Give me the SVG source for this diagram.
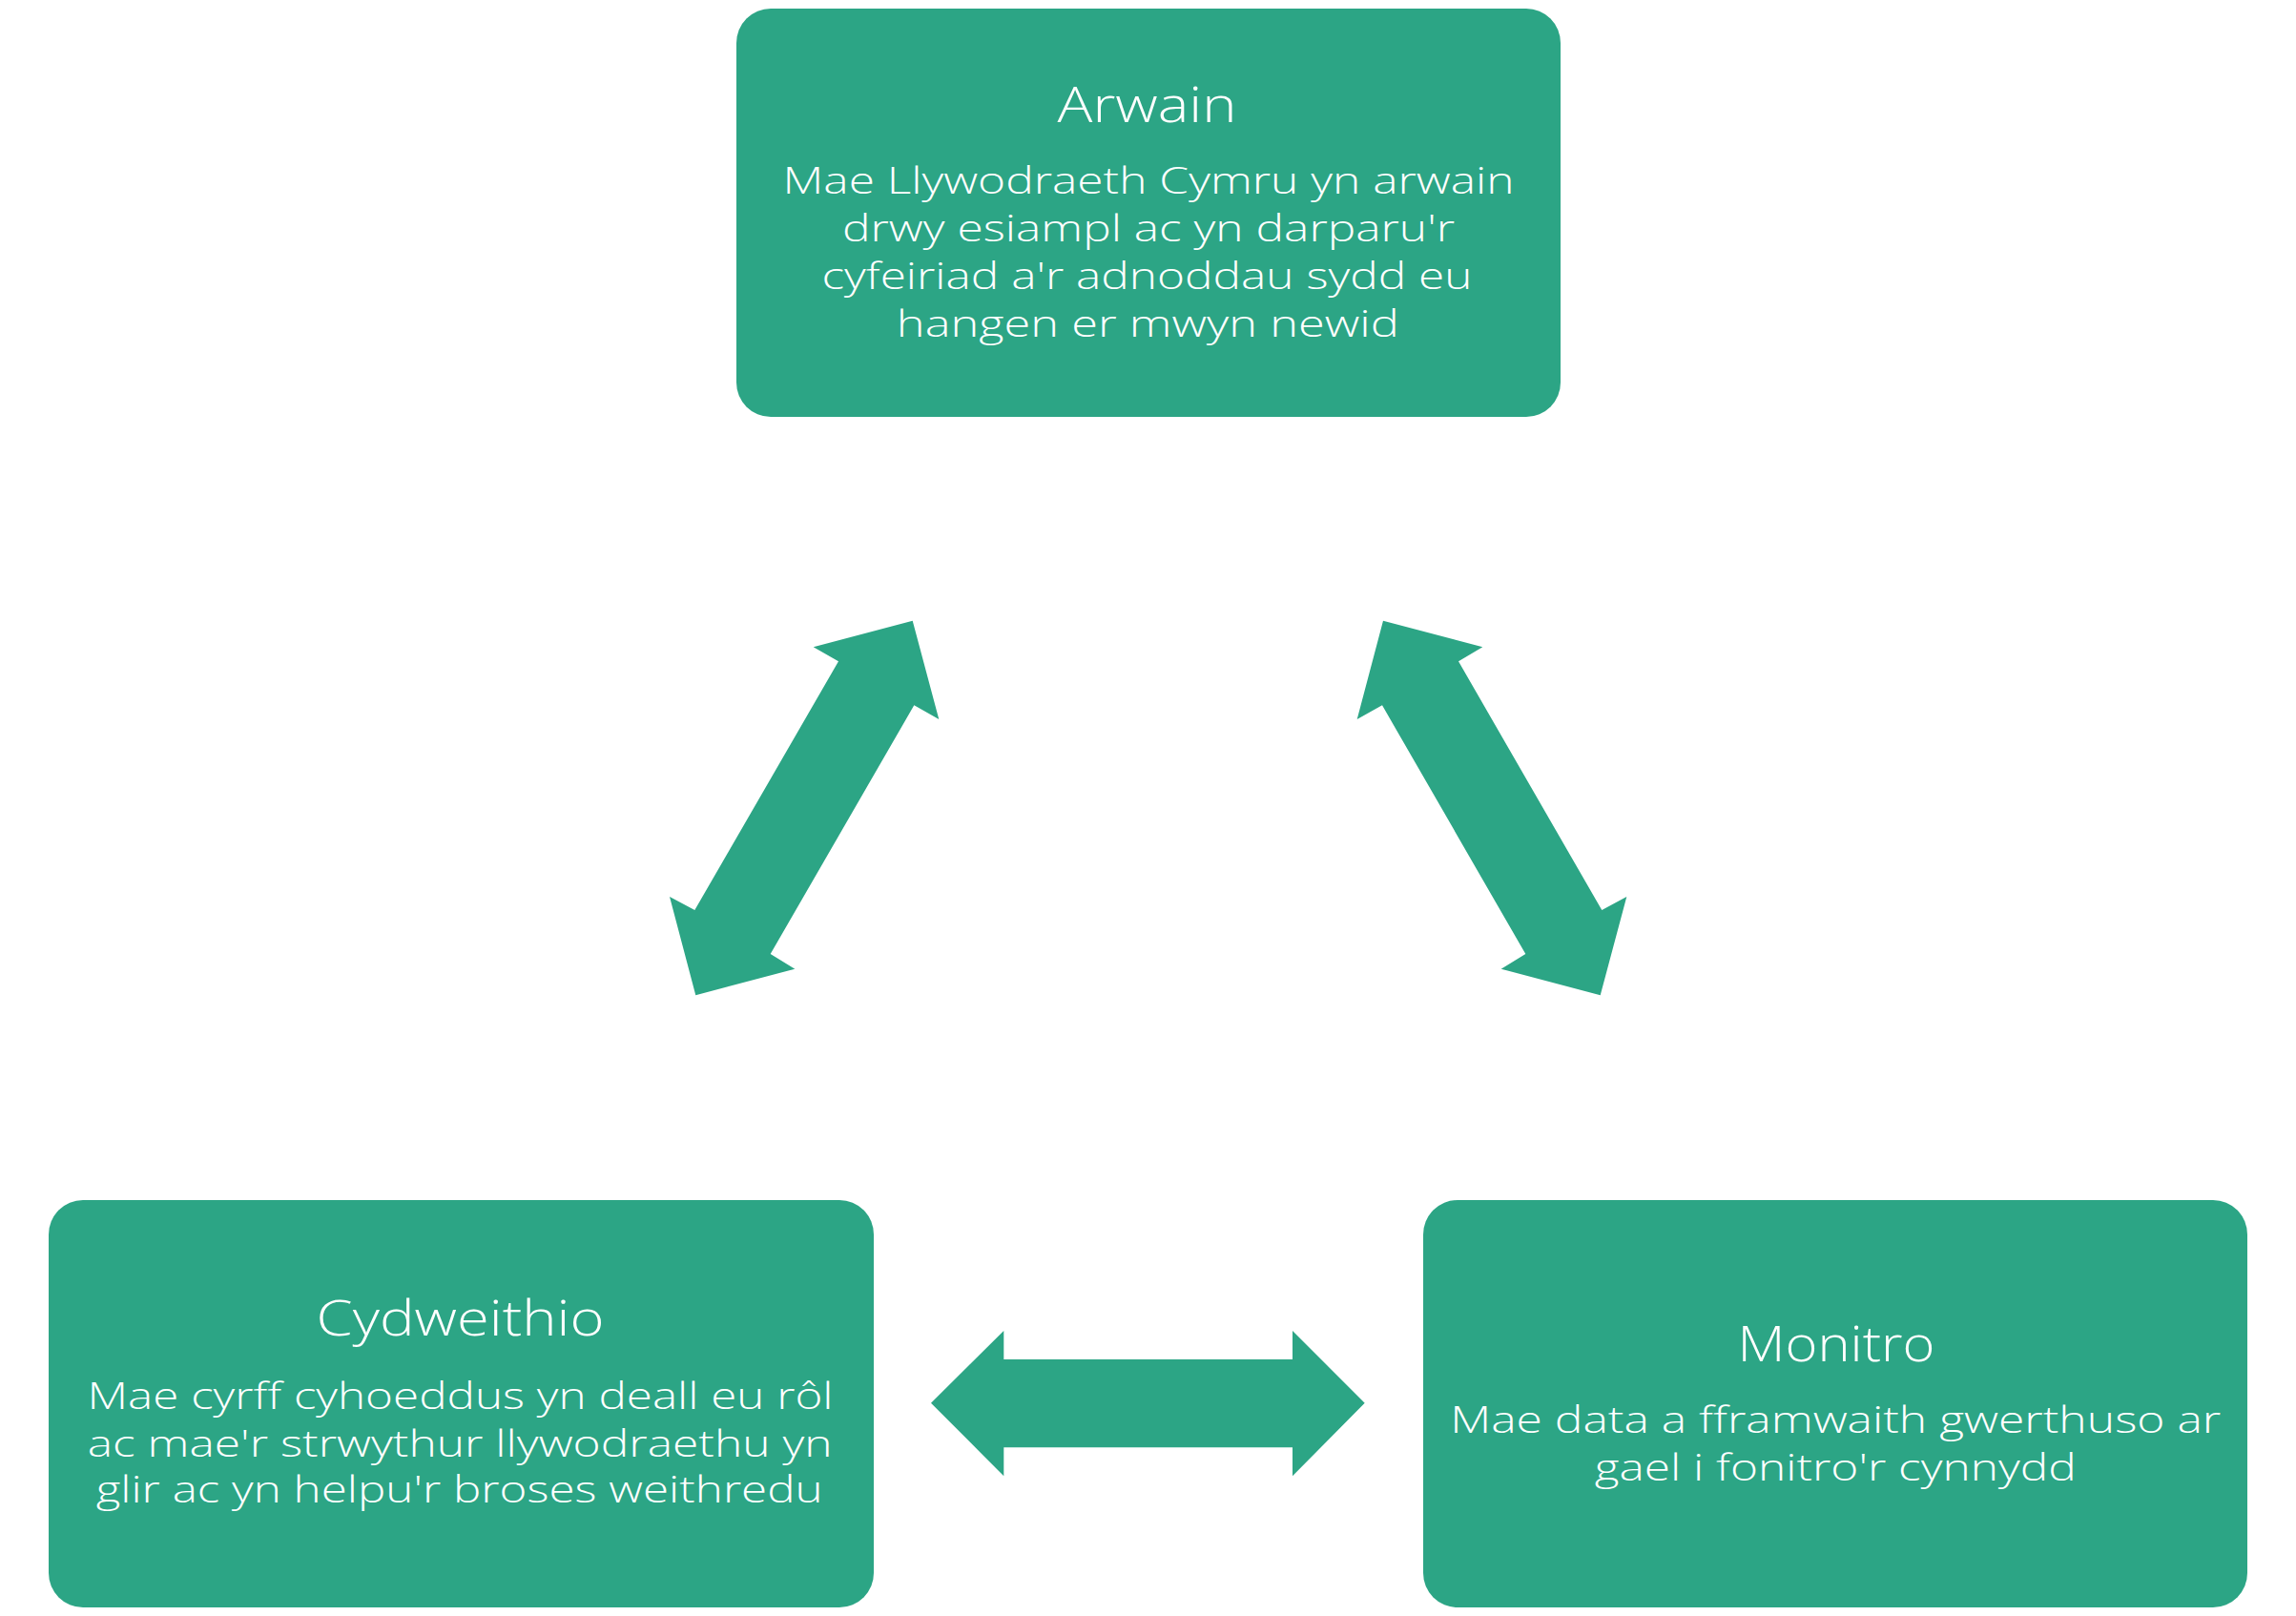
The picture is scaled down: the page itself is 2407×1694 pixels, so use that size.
<svg xmlns="http://www.w3.org/2000/svg" width="2407" height="1694" viewBox="0 0 2407 1694">
<style>
.box{fill:#2CA585}
.arrow{fill:#2CA585}
.t{font-family:"Open Sans","Liberation Sans",sans-serif;font-weight:300;fill:#FFFFFF;text-anchor:middle}
.h{font-size:52px}
.b{font-size:39px}
</style>
<rect width="2407" height="1694" fill="#FFFFFF"/>
<g id="connectors">
<polygon class="arrow" points="956.7,650.7 984.3,754 958.3,739.3 807.7,1000 833.3,1015.7 729.3,1043.3 702,940 728.3,954 879,693.3 852.7,678.3"/>
<polygon class="arrow" points="1450,650.7 1554.3,678.3 1529,693.3 1679.3,954 1705.3,940 1677.7,1043.3 1573.7,1015.7 1599.3,1000 1449,739.3 1422.7,754"/>
<polygon class="arrow" points="976,1470.7 1052.3,1395 1052.3,1425 1355,1425 1355,1395 1430.7,1470.7 1355,1547.3 1355,1517.3 1052.3,1517.3 1052.3,1547.3"/>
</g>
<g id="node-arwain">
<rect class="box" x="772" y="9" width="864" height="428" rx="36" ry="36"/>
<text class="t h" x="1202.5" y="128" textLength="188" lengthAdjust="spacingAndGlyphs">Arwain</text>
<text class="t b" x="1204" y="203" textLength="767" lengthAdjust="spacingAndGlyphs">Mae Llywodraeth Cymru yn arwain</text>
<text class="t b" x="1204" y="253" textLength="642" lengthAdjust="spacingAndGlyphs">drwy esiampl ac yn darparu'r</text>
<text class="t b" x="1202.5" y="303" textLength="682" lengthAdjust="spacingAndGlyphs">cyfeiriad a'r adnoddau sydd eu</text>
<text class="t b" x="1203.3" y="353" textLength="527" lengthAdjust="spacingAndGlyphs">hangen er mwyn newid</text>
</g>
<g id="node-cydweithio">
<rect class="box" x="51" y="1258" width="865" height="427" rx="36" ry="36"/>
<text class="t h" x="482.5" y="1400" textLength="302" lengthAdjust="spacingAndGlyphs">Cydweithio</text>
<text class="t b" x="482.5" y="1477" textLength="782" lengthAdjust="spacingAndGlyphs">Mae cyrff cyhoeddus yn deall eu rôl</text>
<text class="t b" x="482.2" y="1527" textLength="781" lengthAdjust="spacingAndGlyphs">ac mae'r strwythur llywodraethu yn</text>
<text class="t b" x="481.7" y="1575" textLength="762" lengthAdjust="spacingAndGlyphs">glir ac yn helpu'r broses weithredu</text>
</g>
<g id="node-monitro">
<rect class="box" x="1492" y="1258" width="864" height="427" rx="36" ry="36"/>
<text class="t h" x="1925" y="1427" textLength="207" lengthAdjust="spacingAndGlyphs">Monitro</text>
<text class="t b" x="1924.2" y="1502" textLength="808" lengthAdjust="spacingAndGlyphs">Mae data a fframwaith gwerthuso ar</text>
<text class="t b" x="1924.2" y="1552" textLength="505" lengthAdjust="spacingAndGlyphs">gael i fonitro'r cynnydd</text>
</g>
</svg>
